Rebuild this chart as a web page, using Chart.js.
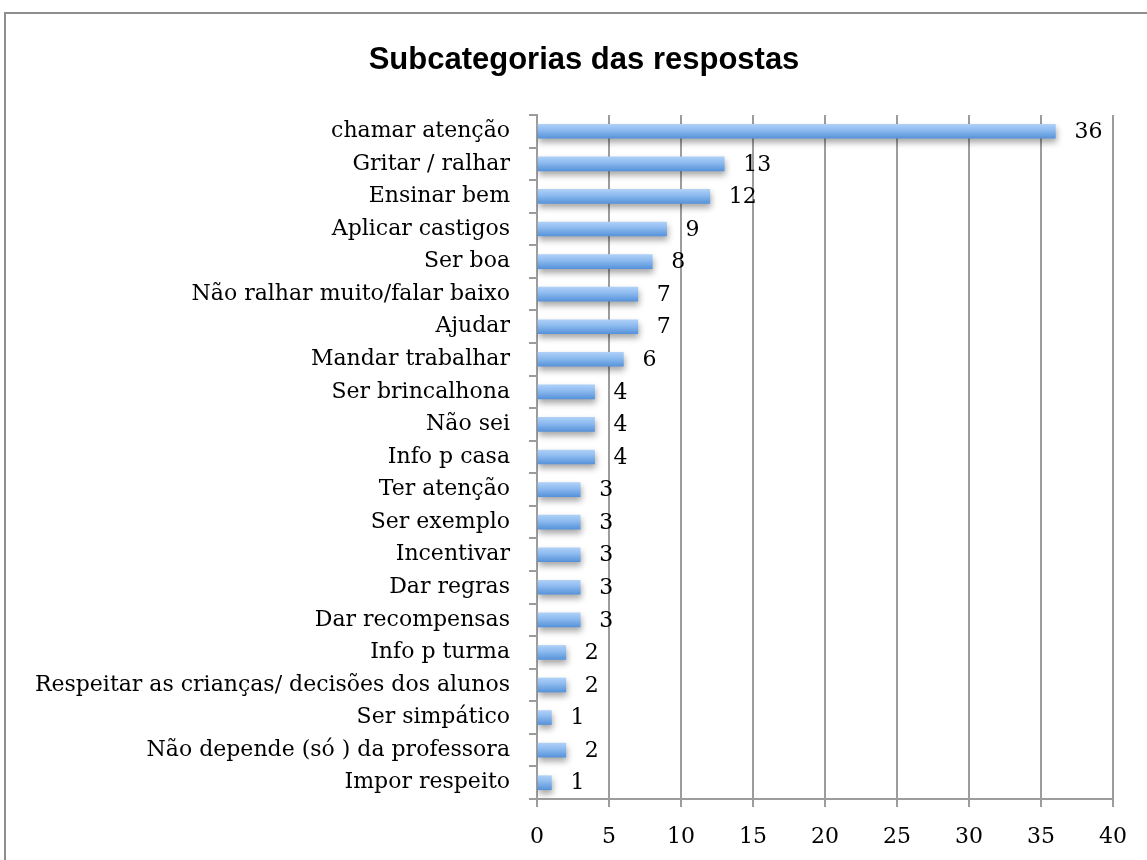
<!DOCTYPE html>
<html>
<head>
<meta charset="utf-8">
<script src="https://cdn.jsdelivr.net/npm/chart.js@4.4.0/dist/chart.umd.min.js"></script>
<style>
  body { margin: 0; background: #fff; overflow: hidden; }
  #moldura { position: absolute; left: 4px; top: 12px; width: 1200px; height: 900px; border: 2px solid #8e8e8e; }
  #caixa { position: absolute; left: 0; top: 0; width: 1147px; height: 860px; }
</style>
</head>
<body>
<div id="moldura"></div>
<div id="caixa"><canvas id="grafico" width="1147" height="860"></canvas></div>
<script>
const categorias = [
    'chamar atenção', 'Gritar / ralhar', 'Ensinar bem', 'Aplicar castigos', 'Ser boa',
    'Não ralhar muito/falar baixo', 'Ajudar', 'Mandar trabalhar', 'Ser brincalhona', 'Não sei',
    'Info p casa', 'Ter atenção', 'Ser exemplo', 'Incentivar', 'Dar regras',
    'Dar recompensas', 'Info p turma', 'Respeitar as crianças/ decisões dos alunos', 'Ser simpático',
    'Não depende (só ) da professora', 'Impor respeito'
];
const valores = [36, 13, 12, 9, 8, 7, 7, 6, 4, 4, 4, 3, 3, 3, 3, 3, 2, 2, 1, 2, 1];
const titulo = 'Subcategorias das respostas';
const eixoX = { min: 0, max: 40, passo: 5 };

const cinza = '#9c9c9c';
const fonteSerif = '"DejaVu Serif", serif';

// título centrado como no original (um pouco à direita do meio)
const tituloPlugin = {
    id: 'tituloPlugin',
    afterDraw(chart) {
        const c = chart.ctx;
        c.save();
        c.font = 'bold 31px "Liberation Sans", Arial, sans-serif';
        c.fillStyle = '#000';
        c.textAlign = 'center';
        c.textBaseline = 'alphabetic';
        c.fillText(titulo, 584, 69);
        c.restore();
    }
};

// sombra suave por baixo das barras
const sombra = {
    id: 'sombra',
    beforeDatasetsDraw(chart) {
        const c = chart.ctx;
        c.save();
        c.shadowColor = 'rgba(0,0,0,0.35)';
        c.shadowBlur = 6;
        c.shadowOffsetX = 1;
        c.shadowOffsetY = 4;
    },
    afterDatasetsDraw(chart) {
        chart.ctx.restore();
    }
};

// valores escritos à direita de cada barra
const rotulos = {
    id: 'rotulos',
    afterDatasetsDraw(chart) {
        const c = chart.ctx;
        const meta = chart.getDatasetMeta(0);
        c.save();
        c.font = '22px ' + fonteSerif;
        c.fillStyle = '#000';
        c.textAlign = 'left';
        c.textBaseline = 'middle';
        meta.data.forEach(function (barra, i) {
            c.fillText(String(valores[i]), barra.x + 19, barra.y + 1);
        });
        c.restore();
    }
};

document.addEventListener("DOMContentLoaded", function () {
    const ctx = document.getElementById('grafico').getContext('2d');
    const grafico = new Chart(ctx, {
        type: 'bar',
        data: {
            labels: categorias,
            datasets: [{
                data: valores,
                barThickness: 14,
                backgroundColor: function (context) {
                    const chart = context.chart;
                    const y = chart.scales.y;
                    if (!y || context.dataIndex === undefined) return '#7aaee8';
                    const cy = y.getPixelForValue(context.dataIndex);
                    if (!isFinite(cy)) return '#7aaee8';
                    const g = chart.ctx.createLinearGradient(0, cy - 7, 0, cy + 7);
                    g.addColorStop(0, '#aed0f7');
                    g.addColorStop(0.4, '#8fbcf0');
                    g.addColorStop(1, '#5793da');
                    return g;
                },
                borderWidth: 0
            }]
        },
        options: {
            indexAxis: 'y',
            responsive: false,
            animation: false,
            layout: { padding: { top: 115, left: 0, right: 34, bottom: 0 } },
            plugins: {
                legend: { display: false },
                tooltip: { enabled: false },
                title: { display: false }
            },
            scales: {
                x: {
                    min: eixoX.min,
                    max: eixoX.max,
                    ticks: {
                        stepSize: eixoX.passo,
                        color: '#000',
                        padding: 17,
                        font: { family: fonteSerif, size: 22 }
                    },
                    grid: { color: cinza, lineWidth: 2, tickLength: 8, tickColor: cinza },
                    border: { display: true, color: cinza, width: 2 },
                    afterFit: function (s) { s.height = 61; }
                },
                y: {
                    ticks: {
                        autoSkip: false,
                        color: '#000',
                        padding: 19,
                        font: { family: fonteSerif, size: 22 }
                    },
                    grid: { drawOnChartArea: false, color: cinza, lineWidth: 2, tickLength: 8, tickColor: cinza },
                    border: { display: true, color: cinza, width: 2 },
                    afterFit: function (s) { s.width = 537; }
                }
            }
        },
        plugins: [sombra, rotulos, tituloPlugin]
    });
});
</script>
</body>
</html>
